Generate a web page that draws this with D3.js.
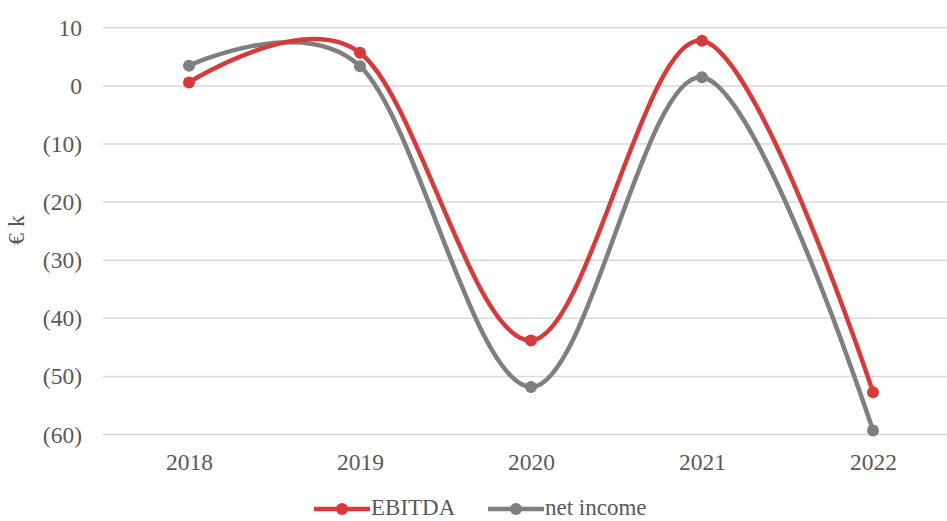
<!DOCTYPE html>
<html>
<head>
<meta charset="utf-8" />
<title>EBITDA and net income</title>
<script src="https://cdnjs.cloudflare.com/ajax/libs/d3/7.8.5/d3.min.js"></script>
<style>
  body { margin: 0; background: #fff; }
  svg { display: block; }
  svg text { font-family: "Liberation Serif", "Times New Roman", serif; }
</style>
</head>
<body>
<svg id="chart" width="947" height="521"></svg>
<script>
  const years = ['2018', '2019', '2020', '2021', '2022']
  const ebitda = [0.5, 5.6, -43.9, 7.7, -52.8]
  const netIncome = [3.4, 3.3, -51.9, 1.4, -59.4]
  const yTicks = [10, 0, -10, -20, -30, -40, -50, -60]
  const seriesNames = ['EBITDA', 'net income']
  const colors = ['#d63b3b', '#7f7f7f']

  const svg = d3.select('#chart')

  let xScale = d3.scalePoint().domain(years).range([189, 873])
  let yScale = d3.scaleLinear().domain([-60, 10]).range([434, 27.3])

  // gridlines + y labels
  let yAxis = d3.axisLeft(yScale).tickValues(yTicks).tickSize(-855).tickPadding(21)
    .tickFormat(d => d < 0 ? '(' + Math.abs(d) + ')' : d)
  let gy = svg.append('g').attr('transform', 'translate(103,0)').call(yAxis)
    .attr('font-family', null).attr('font-size', null)
  gy.select('.domain').remove()
  gy.selectAll('.tick line').attr('stroke', '#d9d9d9').attr('stroke-width', 1.5)
  gy.selectAll('.tick text').attr('fill', '#595959').style('font-size', '23.5px')
    .attr('dy', '0.34em')

  let xAxis = d3.axisBottom(xScale).tickSize(0).tickPadding(19)
  let gx = svg.append('g').attr('transform', 'translate(0,434)').call(xAxis)
    .attr('font-family', null).attr('font-size', null)
  gx.select('.domain').remove()
  gx.selectAll('.tick text').attr('fill', '#595959').style('font-size', '23.5px')

  svg.append('text')
    .attr('transform', 'translate(24,230) rotate(-90)')
    .attr('text-anchor', 'middle')
    .attr('fill', '#595959')
    .style('font-size', '23.5px')
    .text('€ k')

  let lineGen = d3.line()
    .x((d, i) => xScale(years[i]))
    .y(d => yScale(d))
    .curve(d3.curveCardinal.tension(0))

  ;[netIncome, ebitda].forEach((vals, k) => {
    let c = k === 0 ? colors[1] : colors[0]
    svg.append('path')
      .attr('d', lineGen(vals))
      .attr('fill', 'none')
      .attr('stroke', c)
      .attr('stroke-width', 4.5)
      .attr('stroke-linecap', 'round')
    svg.selectAll(null)
      .data(vals)
      .enter()
      .append('circle')
      .attr('cx', (d, i) => xScale(years[i]))
      .attr('cy', d => yScale(d))
      .attr('r', 6)
      .attr('fill', c)
  })

  // legend
  let legendX = [314, 488]
  seriesNames.forEach((name, i) => {
    let g = svg.append('g').attr('transform', 'translate(' + legendX[i] + ',509)')
    g.append('line').attr('x1', 0).attr('x2', 56).attr('y1', 0).attr('y2', 0)
      .attr('stroke', colors[i]).attr('stroke-width', 4.5)
    g.append('circle').attr('cx', 28).attr('cy', 0).attr('r', 6).attr('fill', colors[i])
    g.append('text').attr('x', 57).attr('y', 6).attr('fill', '#595959')
      .style('font-size', '23px').text(name)
  })
</script>
</body>
</html>
